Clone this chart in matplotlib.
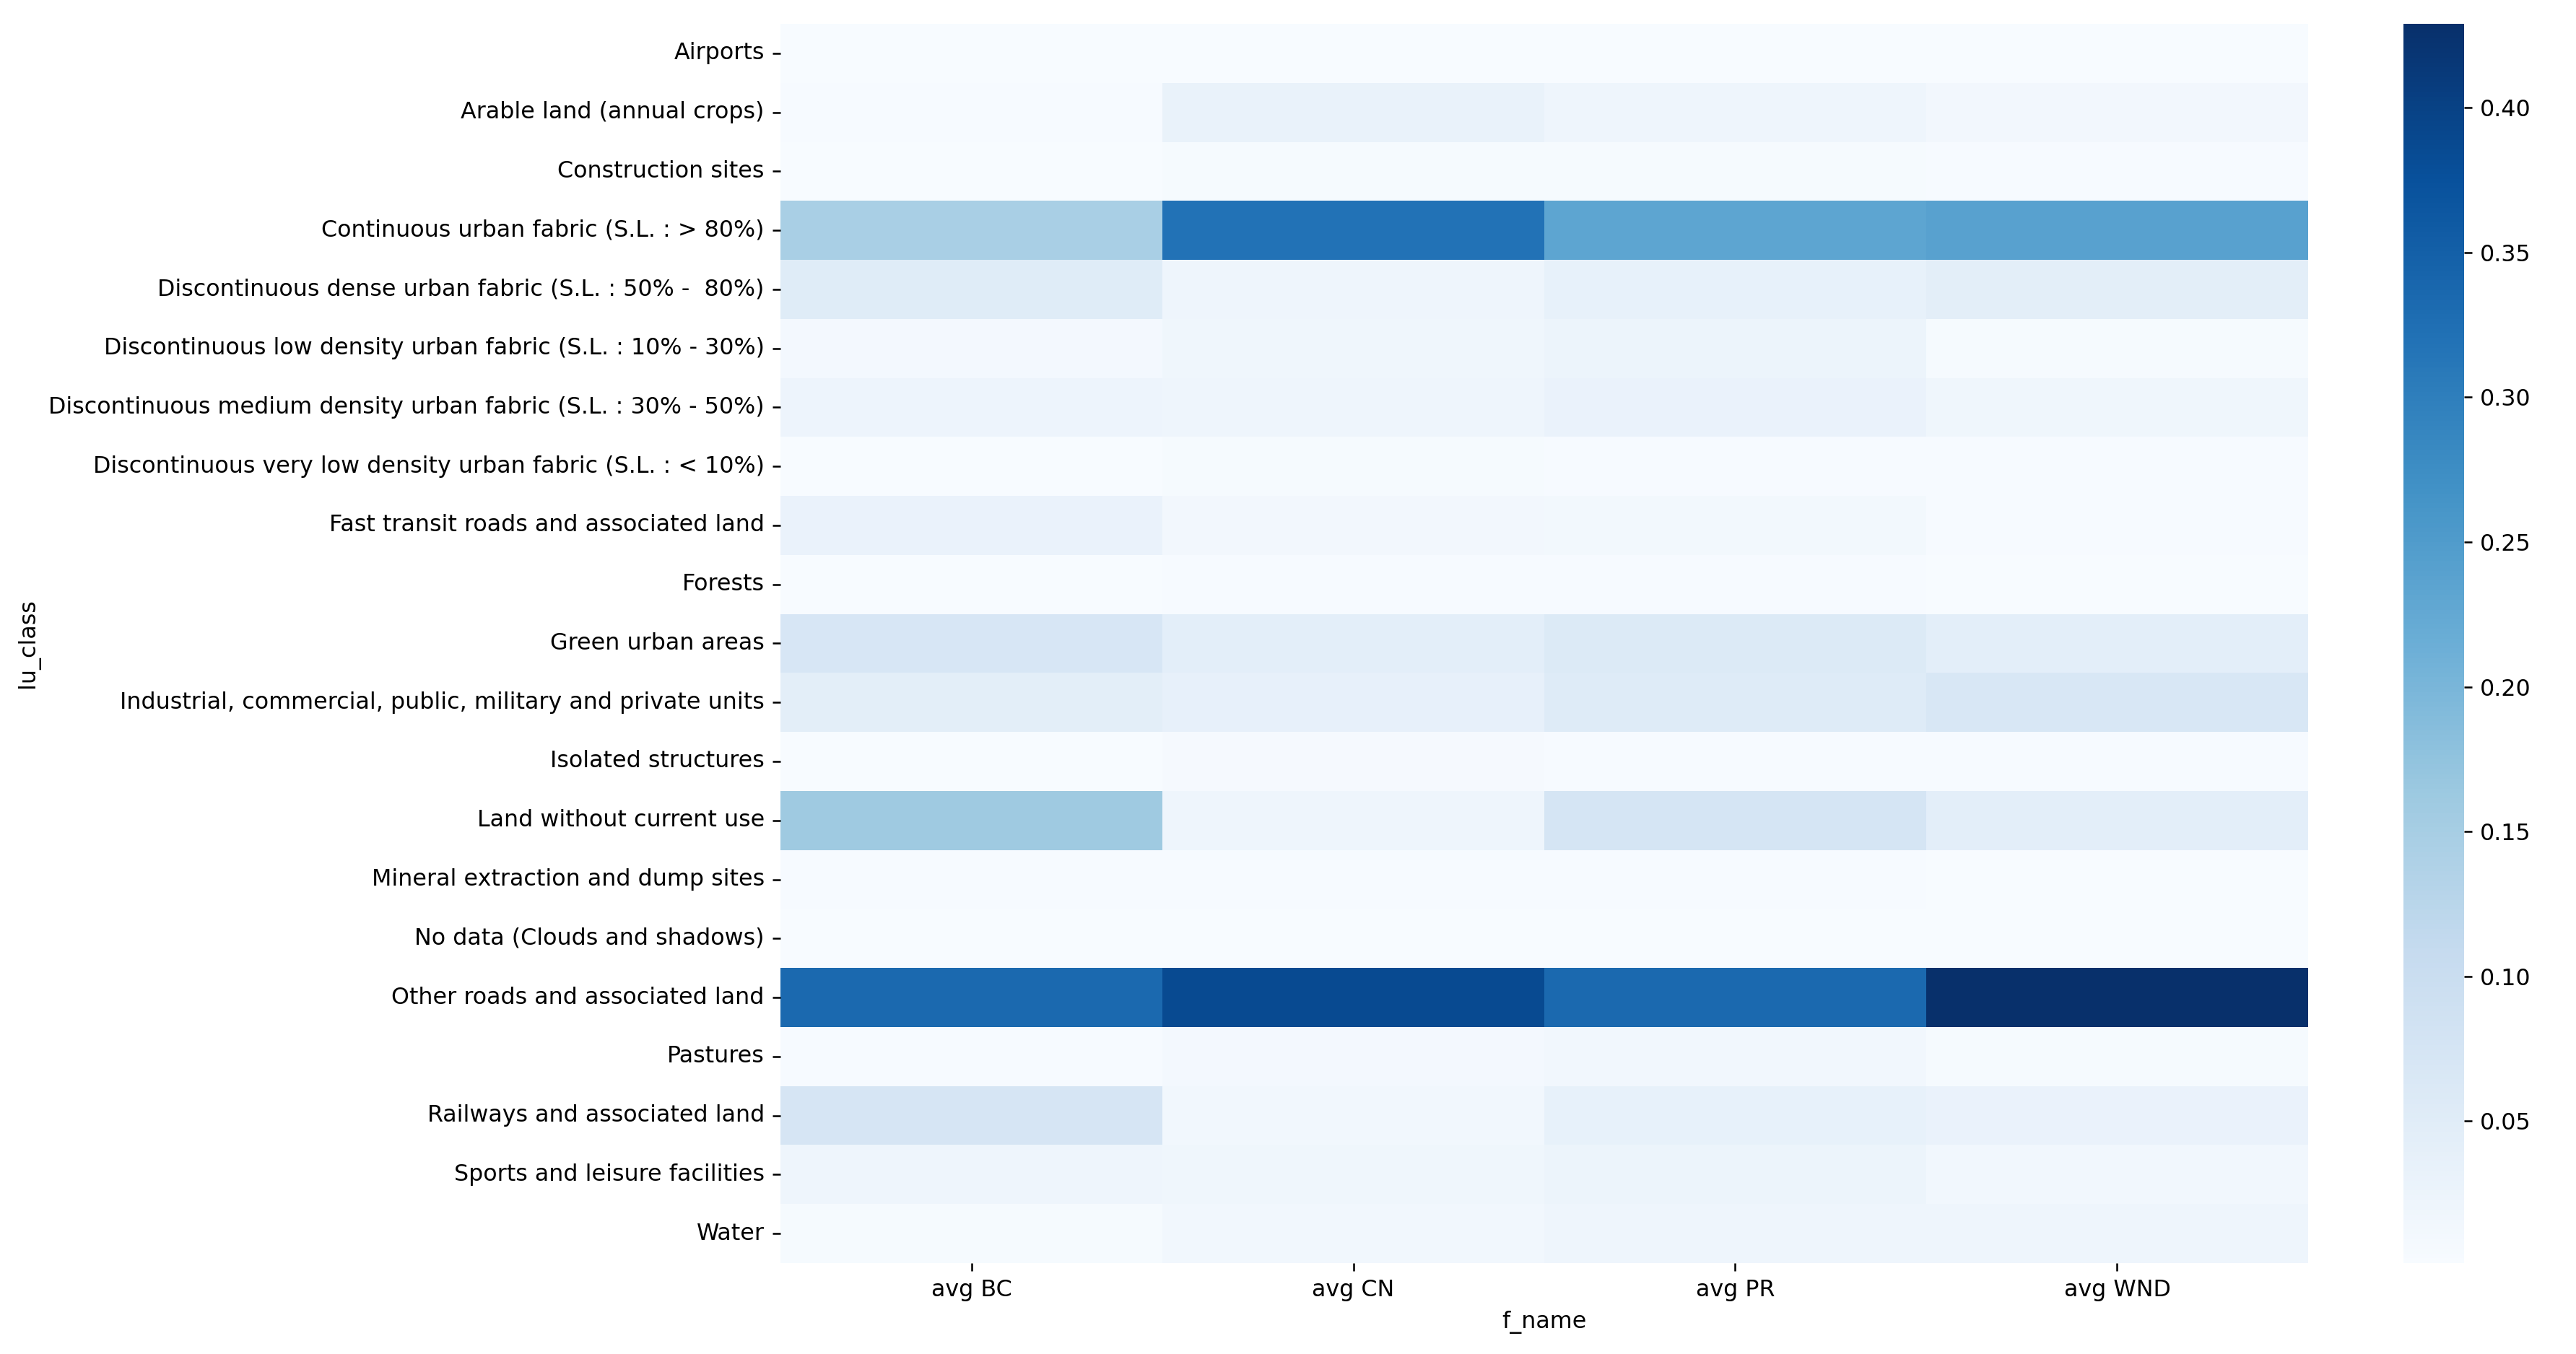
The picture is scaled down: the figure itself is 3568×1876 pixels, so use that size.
import numpy as np
import pandas as pd
import matplotlib
matplotlib.use("Agg")
import matplotlib.pyplot as plt
import seaborn as sns

lu_classes = [
    "Airports",
    "Arable land (annual crops)",
    "Construction sites",
    "Continuous urban fabric (S.L. : > 80%)",
    "Discontinuous dense urban fabric (S.L. : 50% -  80%)",
    "Discontinuous low density urban fabric (S.L. : 10% - 30%)",
    "Discontinuous medium density urban fabric (S.L. : 30% - 50%)",
    "Discontinuous very low density urban fabric (S.L. : < 10%)",
    "Fast transit roads and associated land",
    "Forests",
    "Green urban areas",
    "Industrial, commercial, public, military and private units",
    "Isolated structures",
    "Land without current use",
    "Mineral extraction and dump sites",
    "No data (Clouds and shadows)",
    "Other roads and associated land",
    "Pastures",
    "Railways and associated land",
    "Sports and leisure facilities",
    "Water",
]

f_names = ["avg BC", "avg CN", "avg PR", "avg WND"]

avg_bc = [0.002, 0.004, 0.002, 0.147, 0.052, 0.011, 0.024, 0.002, 0.030, 0.002,
          0.070, 0.046, 0.002, 0.160, 0.004, 0.001, 0.335, 0.004, 0.073, 0.021, 0.006]
avg_cn = [0.002, 0.032, 0.005, 0.320, 0.022, 0.019, 0.021, 0.005, 0.014, 0.004,
          0.043, 0.037, 0.007, 0.022, 0.003, 0.001, 0.387, 0.010, 0.016, 0.019, 0.015]
avg_pr = [0.002, 0.020, 0.005, 0.233, 0.035, 0.026, 0.030, 0.003, 0.012, 0.003,
          0.058, 0.056, 0.004, 0.075, 0.003, 0.001, 0.335, 0.015, 0.035, 0.025, 0.020]
avg_wnd = [0.002, 0.013, 0.004, 0.240, 0.046, 0.005, 0.018, 0.003, 0.004, 0.002,
           0.044, 0.068, 0.003, 0.044, 0.002, 0.001, 0.429, 0.005, 0.030, 0.015, 0.021]

df = pd.DataFrame({"avg BC": avg_bc, "avg CN": avg_cn, "avg PR": avg_pr, "avg WND": avg_wnd},
                  index=pd.Index(lu_classes, name="lu_class"))
df = df[f_names]
df.columns.name = "f_name"

dpi = 228.7
fig = plt.figure(figsize=(3568 / dpi, 1876 / dpi), dpi=dpi)
ax = fig.add_axes([0.3030, 0.0672, 0.5930, 0.9152])
cax = fig.add_axes([0.9330, 0.0672, 0.0235, 0.9152])

sns.heatmap(df, cmap="Blues", ax=ax, cbar_ax=cax)

fig.savefig("out.png", dpi=dpi)
